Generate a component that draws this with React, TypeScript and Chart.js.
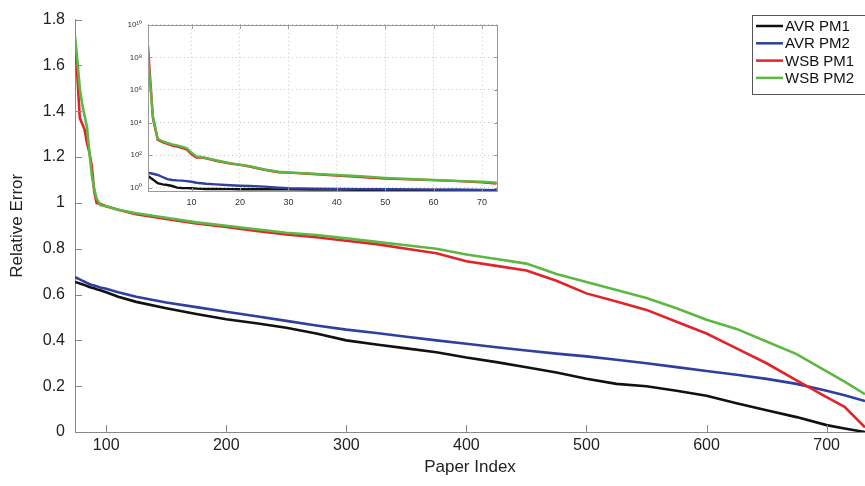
import React, { useEffect, useRef } from 'react';
import { Chart, registerables } from 'chart.js';

Chart.register(...registerables);

// ---------- data ----------
const seriesNames = ['AVR PM1', 'AVR PM2', 'WSB PM1', 'WSB PM2'];
const seriesColors = ['#111111', '#2f3f9d', '#e2232a', '#5cb843'];

// main plot (papers 74 .. 732)
const mainIndex = [74, 76, 78, 80, 82, 84, 86, 88, 90, 92, 95, 100, 110, 125, 150, 175, 200, 225, 250, 275, 300, 325, 350, 375, 400, 425, 450, 475, 500, 525, 550, 575, 600, 625, 650, 675, 700, 715, 732];
const avrPm1 = [0.655, 0.652, 0.648, 0.645, 0.641, 0.637, 0.633, 0.63, 0.627, 0.623, 0.619, 0.61, 0.59, 0.568, 0.54, 0.515, 0.492, 0.475, 0.455, 0.43, 0.4, 0.382, 0.365, 0.348, 0.325, 0.305, 0.283, 0.26, 0.232, 0.21, 0.2, 0.18, 0.158, 0.125, 0.095, 0.065, 0.03, 0.015, 0.0];
const avrPm2 = [0.676, 0.671, 0.666, 0.661, 0.656, 0.651, 0.646, 0.642, 0.639, 0.636, 0.631, 0.625, 0.61, 0.59, 0.565, 0.545, 0.525, 0.505, 0.485, 0.465, 0.447, 0.432, 0.416, 0.4, 0.385, 0.37, 0.356, 0.342, 0.33, 0.315, 0.3, 0.283, 0.266, 0.25, 0.232, 0.21, 0.18, 0.16, 0.135];
const wsbPm1 = [1.7, 1.55, 1.37, 1.345, 1.32, 1.26, 1.22, 1.16, 1.05, 1.0, 0.995, 0.985, 0.97, 0.95, 0.93, 0.91, 0.895, 0.877, 0.862, 0.85, 0.835, 0.82, 0.8, 0.78, 0.745, 0.725, 0.705, 0.66, 0.605, 0.57, 0.533, 0.481, 0.43, 0.365, 0.3, 0.225, 0.152, 0.11, 0.02];
const wsbPm2 = [1.73, 1.62, 1.5, 1.43, 1.38, 1.33, 1.22, 1.12, 1.06, 1.02, 0.99, 0.985, 0.97, 0.955, 0.935, 0.915, 0.9, 0.885, 0.87, 0.86, 0.845, 0.83, 0.815, 0.8, 0.775, 0.755, 0.735, 0.69, 0.655, 0.62, 0.585, 0.54, 0.49, 0.45, 0.395, 0.34, 0.265, 0.22, 0.165];

// inset (papers 1 .. 73, log scale)
const insetIndex = [1, 2, 3, 4, 5, 6, 7, 8, 9, 10, 11, 12, 13, 15, 18, 20, 22, 25, 28, 30, 35, 40, 45, 50, 55, 60, 65, 70, 73];
const insetAvrPm1 = [5.2, 3.2, 1.86, 1.58, 1.45, 1.26, 1.0, 0.95, 0.93, 0.91, 0.87, 0.84, 0.83, 0.82, 0.81, 0.8, 0.8, 0.79, 0.78, 0.78, 0.77, 0.76, 0.75, 0.74, 0.73, 0.72, 0.71, 0.7, 0.68];
const insetAvrPm2 = [8.3, 7.1, 6.0, 4.5, 3.3, 2.95, 2.8, 2.7, 2.5, 2.3, 2.0, 1.86, 1.74, 1.58, 1.41, 1.32, 1.26, 1.15, 1.0, 0.91, 0.87, 0.83, 0.81, 0.79, 0.78, 0.76, 0.74, 0.72, 0.69];
const insetWsbPm1 = [5e8, 2e4, 890, 630, 480, 380, 330, 280, 224, 112, 71, 71, 63, 45, 30, 25, 20, 12.6, 8.9, 8.3, 6.9, 5.5, 4.4, 3.6, 3.2, 2.9, 2.5, 2.1, 1.8];
const insetWsbPm2 = [1.26e8, 2.5e4, 1000, 708, 562, 447, 398, 331, 263, 141, 83, 76, 66, 48, 32, 26, 21, 13, 9.5, 8.7, 7.2, 6.0, 5.0, 4.0, 3.4, 2.95, 2.6, 2.3, 2.0];

const mainXTicks = [100, 200, 300, 400, 500, 600, 700];
const mainYTicks = [0, 0.2, 0.4, 0.6, 0.8, 1, 1.2, 1.4, 1.6, 1.8];
const mainYLabels = ['0', '0.2', '0.4', '0.6', '0.8', '1', '1.2', '1.4', '1.6', '1.8'];
const insetXTicks = [10, 20, 30, 40, 50, 60, 70];
const insetYTicks = [1, 1e2, 1e4, 1e6, 1e8, 1e10];
const insetYLabels = ['10⁰', '10²', '10⁴', '10⁶', '10⁸', '10¹⁰'];

const FONT = '"Liberation Sans", Arial, Helvetica, sans-serif';

// ---------- plugins ----------
const inwardTicks = {
  id: 'inwardTicks',
  afterDatasetsDraw(chart: any, _args: any, opts: any) {
    const { ctx, chartArea: a } = chart;
    const xs = chart.scales.x;
    const ys = chart.scales.y;
    const len = opts.len || 6;
    ctx.save();
    ctx.strokeStyle = opts.color || '#777';
    ctx.lineWidth = 1;
    ctx.beginPath();
    xs.ticks.forEach((t: any) => {
      const px = Math.round(xs.getPixelForValue(t.value)) + 0.5;
      ctx.moveTo(px, a.bottom);
      ctx.lineTo(px, a.bottom - len);
      if (opts.box) {
        ctx.moveTo(px, a.top);
        ctx.lineTo(px, a.top + len);
      }
    });
    ys.ticks.forEach((t: any) => {
      const py = Math.round(ys.getPixelForValue(t.value)) + 0.5;
      ctx.moveTo(a.left, py);
      ctx.lineTo(a.left + len, py);
      if (opts.box) {
        ctx.moveTo(a.right, py);
        ctx.lineTo(a.right - len, py);
      }
    });
    ctx.stroke();
    if (opts.box) {
      ctx.strokeRect(Math.round(a.left) + 0.5, Math.round(a.top) + 0.5, Math.round(a.width) - 1, Math.round(a.height) - 1);
    }
    ctx.restore();
  },
};

const whiteArea = {
  id: 'whiteArea',
  beforeDraw(chart: any) {
    const { ctx, chartArea: a } = chart;
    ctx.save();
    ctx.fillStyle = '#ffffff';
    ctx.fillRect(a.left, a.top, a.width, a.height);
    ctx.restore();
  },
};

const boxLegend = {
  id: 'boxLegend',
  afterDraw(chart: any) {
    const { ctx } = chart;
    const x0 = 752.5;
    const y0 = 15.5;
    const w = 120;
    const h = 79;
    ctx.save();
    ctx.fillStyle = '#ffffff';
    ctx.fillRect(x0, y0, w, h);
    ctx.strokeStyle = '#555';
    ctx.lineWidth = 1;
    ctx.strokeRect(x0, y0, w, h);
    ctx.font = `15px ${FONT}`;
    ctx.textBaseline = 'middle';
    chart.data.datasets.forEach((ds: any, i: number) => {
      const y = 26 + i * 17.3;
      ctx.strokeStyle = ds.borderColor;
      ctx.lineWidth = 2.5;
      ctx.beginPath();
      ctx.moveTo(756, y);
      ctx.lineTo(783, y);
      ctx.stroke();
      ctx.fillStyle = '#111';
      ctx.fillText(ds.label, 785, y + 1);
    });
    ctx.restore();
  },
};

function toPoints(xs: number[], ys: number[]) {
  return xs.map((x, i) => ({ x, y: ys[i] }));
}

export default function App() {
  const mainRef = useRef<HTMLCanvasElement | null>(null);
  const insetRef = useRef<HTMLCanvasElement | null>(null);

  useEffect(() => {
    document.body.style.margin = '0';
    const mainSeries = [avrPm1, avrPm2, wsbPm1, wsbPm2];
    const insetSeries = [insetAvrPm1, insetAvrPm2, insetWsbPm1, insetWsbPm2];

    const main = new Chart(mainRef.current as HTMLCanvasElement, {
      type: 'line',
      data: {
        datasets: mainSeries.map((s, i) => ({
          label: seriesNames[i],
          data: toPoints(mainIndex, s),
          borderColor: seriesColors[i],
          backgroundColor: seriesColors[i],
          borderWidth: 2.6,
          pointRadius: 0,
          tension: 0,
          order: 4 - i,
        })),
      },
      options: {
        animation: false,
        responsive: false,
        layout: { padding: { top: 13, left: 0, right: 0, bottom: 0 } },
        plugins: {
          legend: { display: false },
          tooltip: { enabled: false },
          inwardTicks: { len: 7, color: '#888', box: false },
        } as any,
        scales: {
          x: {
            type: 'linear',
            min: 74,
            max: 732,
            afterBuildTicks: (s: any) => {
              s.ticks = mainXTicks.map((v) => ({ value: v }));
            },
            ticks: { font: { family: FONT, size: 16 }, color: '#222', padding: 4, maxRotation: 0 },
            grid: { display: false, drawTicks: false },
            border: { display: true, color: '#888', width: 1 },
            title: { display: true, text: 'Paper Index', font: { family: FONT, size: 17 }, color: '#222', padding: { top: 2, bottom: 8 } },
            afterFit: (s: any) => {
              s.height = 54;
            },
          },
          y: {
            type: 'linear',
            min: 0,
            max: 1.8,
            afterBuildTicks: (s: any) => {
              s.ticks = mainYTicks.map((v) => ({ value: v }));
            },
            ticks: {
              font: { family: FONT, size: 16 },
              color: '#222',
              padding: 10,
              callback: (v: any) => {
                const k = mainYTicks.findIndex((t) => Math.abs(t - v) < 1e-9);
                return k >= 0 ? mainYLabels[k] : '';
              },
            },
            grid: { display: false, drawTicks: false },
            border: { display: true, color: '#888', width: 1 },
            title: { display: true, text: 'Relative Error', font: { family: FONT, size: 17 }, color: '#222', padding: { top: 7, bottom: 0 } },
            afterFit: (s: any) => {
              s.width = 75;
            },
          },
        },
      } as any,
      plugins: [inwardTicks, boxLegend],
    });

    const inset = new Chart(insetRef.current as HTMLCanvasElement, {
      type: 'line',
      data: {
        datasets: insetSeries.map((s, i) => ({
          label: seriesNames[i],
          data: toPoints(insetIndex, s),
          borderColor: seriesColors[i],
          backgroundColor: seriesColors[i],
          borderWidth: 2.4,
          pointRadius: 0,
          tension: 0,
          order: 4 - i,
        })),
      },
      options: {
        animation: false,
        responsive: false,
        layout: { padding: { top: 10, left: 0, right: 8, bottom: 0 } },
        plugins: {
          legend: { display: false },
          tooltip: { enabled: false },
          inwardTicks: { len: 4, color: '#999', box: true },
        } as any,
        scales: {
          x: {
            type: 'linear',
            min: 1,
            max: 73.3,
            afterBuildTicks: (s: any) => {
              s.ticks = insetXTicks.map((v) => ({ value: v }));
            },
            ticks: { font: { family: FONT, size: 9 }, color: '#333', padding: 5, maxRotation: 0 },
            grid: { display: true, color: '#c8c8c8', lineWidth: 1, drawTicks: false, borderDash: [1, 3] },
            border: { display: false, dash: [1, 3] },
            afterFit: (s: any) => {
              s.height = 22;
            },
          },
          y: {
            type: 'logarithmic',
            min: 0.54,
            max: 1e10,
            afterBuildTicks: (s: any) => {
              s.ticks = insetYTicks.map((v) => ({ value: v }));
            },
            ticks: {
              font: { family: FONT, size: 8 },
              color: '#333',
              padding: 6,
              callback: (v: any) => {
                const k = insetYTicks.findIndex((t) => Math.abs(t - v) / t < 1e-6);
                return k >= 0 ? insetYLabels[k] : '';
              },
            },
            grid: { display: true, color: '#c8c8c8', lineWidth: 1, drawTicks: false, borderDash: [1, 3] },
            border: { display: false, dash: [1, 3] },
            afterFit: (s: any) => {
              s.width = 38;
            },
          },
        },
      } as any,
      plugins: [whiteArea, inwardTicks],
    });

    return () => {
      main.destroy();
      inset.destroy();
    };
  }, []);

  return (
    <div style={{ position: 'fixed', left: 0, top: 0, width: 865, height: 486, background: '#fff', overflow: 'hidden' }}>
      <canvas ref={mainRef} width={865} height={486} style={{ position: 'absolute', left: 0, top: 0, width: 865, height: 486 }} />
      <canvas ref={insetRef} width={396} height={200} style={{ position: 'absolute', left: 110, top: 14, width: 396, height: 200 }} />
    </div>
  );
}
